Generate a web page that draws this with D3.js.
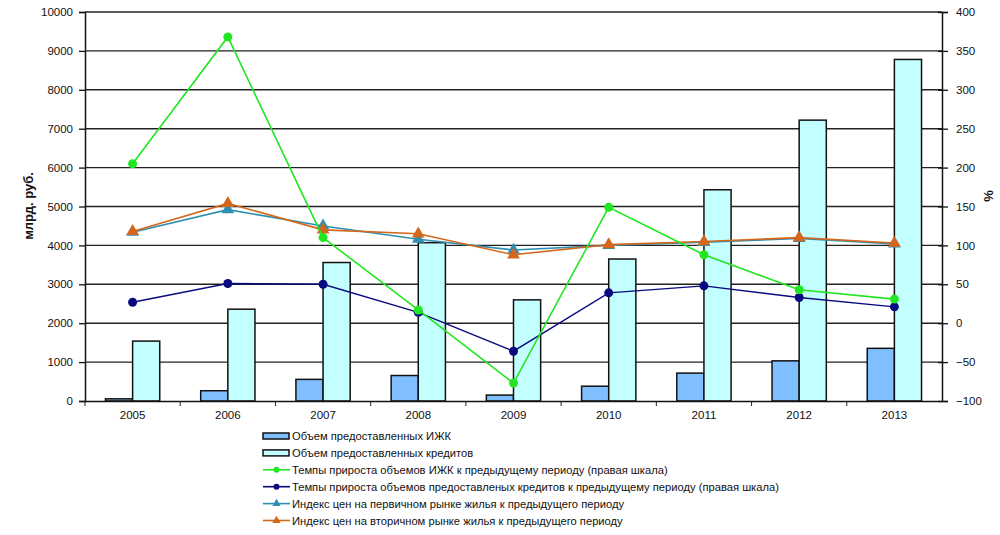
<!DOCTYPE html>
<html><head><meta charset="utf-8">
<script src="https://cdn.jsdelivr.net/npm/d3@7"></script>
<style>body{margin:0;background:#fff}svg{display:block;font-family:"Liberation Sans",Arial,sans-serif}</style>
</head><body>
<svg id="c" width="1000" height="535"></svg>
<script>
const years = ["2005","2006","2007","2008","2009","2010","2011","2012","2013"];
const izhkVolume = [56, 264, 556, 655, 152, 380, 717, 1032, 1354];
const creditVolume = [1540, 2360, 3560, 4070, 2600, 3650, 5430, 7220, 8780];
const izhkGrowth = [205, 368, 110, 17, -77, 149, 88, 43, 31];
const creditGrowth = [27, 51, 50, 14, -36, 39, 48, 33, 21];
const primaryIndex = [117, 146, 125, 108, 94, 100, 104, 109, 102];
const secondaryIndex = [118, 154, 120, 115, 88, 101, 105, 110, 103];
const leftTicks = [0,1000,2000,3000,4000,5000,6000,7000,8000,9000,10000];
const rightTicks = [-100,-50,0,50,100,150,200,250,300,350,400];
const legendLabels = [
  "Объем предоставленных ИЖК",
  "Объем предоставленных кредитов",
  "Темпы прироста объемов ИЖК к предыдущему периоду (правая шкала)",
  "Темпы прироста объемов предоставленых кредитов к предыдущему периоду (правая шкала)",
  "Индекс цен на первичном рынке жилья к предыдущего периоду",
  "Индекс цен на вторичном рынке жилья к предыдущего периоду"
];

const L = 85, R = 942, T = 12, B = 401;
const svg = d3.select("#c");
const x = d3.scaleBand().domain(years).range([L, R]).padding(0);
const yL = d3.scaleLinear().domain([0, 10000]).range([B, T]);
const yR = d3.scaleLinear().domain([-100, 400]).range([B, T]);
const bw = x.bandwidth() * 0.285;
const cx = d => x(d) + x.bandwidth() / 2;

// gridlines
svg.append("g").selectAll("line").data(leftTicks.filter(v => v > 0)).join("line")
  .attr("x1", L).attr("x2", R).attr("y1", d => yL(d)).attr("y2", d => yL(d))
  .attr("stroke", "#222").attr("stroke-width", 1.4);

// bars
const colors = {izhk: "#80bfff", credit: "#c4ffff"};
svg.append("g").selectAll("rect").data(years).join("rect")
  .attr("x", d => cx(d) - bw).attr("width", bw)
  .attr("y", (d, i) => yL(izhkVolume[i])).attr("height", (d, i) => B - yL(izhkVolume[i]))
  .attr("fill", colors.izhk).attr("stroke", "#111").attr("stroke-width", 1.5);
svg.append("g").selectAll("rect").data(years).join("rect")
  .attr("x", d => cx(d)).attr("width", bw)
  .attr("y", (d, i) => yL(creditVolume[i])).attr("height", (d, i) => B - yL(creditVolume[i]))
  .attr("fill", colors.credit).attr("stroke", "#111").attr("stroke-width", 1.5);

// axes
const axL = d3.axisLeft(yL).tickValues(leftTicks).tickFormat(d3.format("d")).tickSize(6).tickPadding(6);
const gL = svg.append("g").attr("transform", `translate(${L},0)`).call(axL);
const axR = d3.axisRight(yR).tickValues(rightTicks).tickFormat(d3.format("d")).tickSize(6).tickPadding(8);
const gR = svg.append("g").attr("transform", `translate(${R},0)`).call(axR);
gR.selectAll(".tick line").attr("x1", -4);
const axB = d3.axisBottom(x).tickSize(0).tickPadding(10);
const gB = svg.append("g").attr("transform", `translate(0,${B})`).call(axB);
// boundary ticks
svg.append("g").selectAll("line").data(years).join("line")
  .attr("x1", d => x(d)).attr("x2", d => x(d)).attr("y1", B).attr("y2", B + 5)
  .attr("stroke", "#222").attr("stroke-width", 1);
[gL, gR, gB].forEach(g => {
  g.select(".domain").attr("stroke", "#111").attr("stroke-width", 1.5);
  g.selectAll(".tick line").attr("stroke", "#111").attr("stroke-width", 1.3);
  g.selectAll("text").attr("fill", "#111").attr("font-size", 11.5)
    .attr("font-family", "'Liberation Sans',Arial,sans-serif");
});
gB.select(".domain").attr("d", `M${L},0.5H${R}`);
gL.selectAll("text").attr("font-size", 11.5);
gR.selectAll("text").attr("font-size", 11.5);

// titles
svg.append("text").attr("transform", "translate(33,206) rotate(-90)")
  .attr("text-anchor", "middle").attr("font-size", 13).attr("font-weight", "bold")
  .attr("fill", "#111").text("млрд. руб.");
svg.append("text").attr("transform", "translate(993,196) rotate(-90)")
  .attr("text-anchor", "middle").attr("font-size", 13).attr("font-weight", "bold")
  .attr("fill", "#111").text("%");

// lines
const lineSeries = [
  {vals: izhkGrowth, color: "#22e622", marker: "circle", w: 1.6},
  {vals: creditGrowth, color: "#0a0a80", marker: "circle", w: 1.4},
  {vals: primaryIndex, color: "#2e8fb0", marker: "tri", w: 1.6},
  {vals: secondaryIndex, color: "#d4671c", marker: "tri", w: 1.6}
];
const line = d3.line().x(d => d[0]).y(d => d[1]);
const triSym = d3.symbol().type(d3.symbolTriangle).size(70);
[2, 3, 1, 0].forEach(k => {
  const s = lineSeries[k];
  const pts = years.map((y, i) => [cx(y), yR(s.vals[i])]);
  svg.append("path").attr("d", line(pts)).attr("fill", "none")
    .attr("stroke", s.color).attr("stroke-width", s.w);
  const g = svg.append("g");
  if (s.marker === "circle") {
    g.selectAll("circle").data(pts).join("circle")
      .attr("cx", d => d[0]).attr("cy", d => d[1]).attr("r", 4.5).attr("fill", s.color);
  } else {
    g.selectAll("path").data(pts).join("path")
      .attr("transform", d => `translate(${d[0]},${d[1]})`).attr("d", triSym).attr("fill", s.color);
  }
});

// legend
const lg = svg.append("g");
const ly0 = 436, ldy = 16.9, lx = 263;
legendLabels.forEach((lab, i) => {
  const y = ly0 + i * ldy;
  if (i < 2) {
    lg.append("rect").attr("x", lx).attr("y", y - 3).attr("width", 26).attr("height", 6)
      .attr("fill", i === 0 ? colors.izhk : colors.credit).attr("stroke", "#111").attr("stroke-width", 1.5);
  } else {
    const s = lineSeries[i - 2];
    lg.append("line").attr("x1", lx).attr("x2", lx + 27).attr("y1", y).attr("y2", y)
      .attr("stroke", s.color).attr("stroke-width", 1.6);
    if (s.marker === "circle") lg.append("circle").attr("cx", lx + 13.5).attr("cy", y).attr("r", 3).attr("fill", s.color);
    else lg.append("path").attr("transform", `translate(${lx + 13.5},${y})`)
      .attr("d", d3.symbol().type(d3.symbolTriangle).size(30)).attr("fill", s.color);
  }
  lg.append("text").attr("x", lx + 29).attr("y", y + 4).attr("font-size", 11.2)
    .attr("fill", "#111").text(lab);
});
</script>
</body></html>
